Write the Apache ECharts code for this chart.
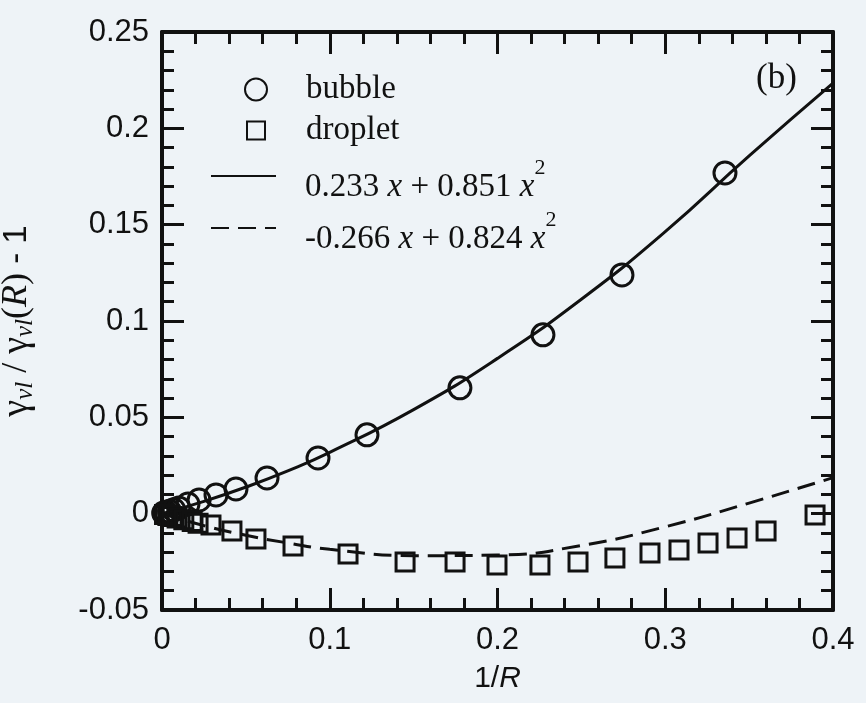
<!DOCTYPE html>
<html>
<head>
<meta charset="utf-8">
<script src="https://cdn.jsdelivr.net/npm/echarts@6/dist/echarts.min.js"></script>
<style>
  html, body { margin: 0; padding: 0; background: #eef3f7; }
  #chart { width: 866px; height: 703px; }
</style>
</head>
<body>
<div id="chart"></div>
<script>
// Simulated bubbles: inverse radius vs. relative surface tension change
const bubbleX = [0.001, 0.0025, 0.0045, 0.007, 0.010, 0.0155, 0.0221, 0.0322, 0.0441, 0.0626, 0.093, 0.1222, 0.1776, 0.2271, 0.2742, 0.3356];
const bubbleY = [0.0003, 0.0007, 0.0013, 0.0020, 0.0030, 0.0050, 0.0071, 0.0097, 0.0128, 0.0185, 0.0289, 0.0409, 0.0653, 0.0928, 0.1239, 0.1768];

// Simulated droplets
const dropX = [0.0015, 0.0035, 0.006, 0.009, 0.013, 0.018, 0.0215, 0.0292, 0.0417, 0.056, 0.0781, 0.1109, 0.1449, 0.1747, 0.1997, 0.2253, 0.248, 0.27, 0.2909, 0.3082, 0.3255, 0.3428, 0.3601, 0.3893];
const dropY = [-0.0004, -0.0009, -0.0015, -0.0022, -0.0031, -0.0041, -0.0050, -0.0059, -0.0090, -0.0131, -0.0168, -0.0209, -0.0251, -0.0251, -0.0266, -0.0266, -0.0251, -0.0230, -0.0204, -0.0188, -0.0152, -0.0126, -0.0090, -0.0007];

// Quadratic fit curves, sampled along 1/R
const fitX = [0, 0.025, 0.05, 0.075, 0.1, 0.15, 0.2, 0.25, 0.3, 0.35, 0.4];
const bubbleFitY = [0, 0.0064, 0.0138, 0.0222, 0.0318, 0.0540, 0.0806, 0.1113, 0.1464, 0.1857, 0.2235];
const dropletFitY = [0, -0.0062, -0.0112, -0.0152, -0.0185, -0.0218, -0.0215, -0.0165, -0.0068, 0.0055, 0.0187];

// Axis tick labels
const xTicks = ['0', '0.1', '0.2', '0.3', '0.4'];
const yTicks = ['-0.05', '0', '0.05', '0.1', '0.15', '0.2', '0.25'];

const zip = (xs, ys) => xs.map((x, i) => [x, ys[i]]);

const INK = '#111';
const SERIF = '"Liberation Serif", "DejaVu Serif", serif';
const SANS = '"Liberation Sans", Arial, sans-serif';

const fitBubbleName = '0.233 x + 0.851 x^2';
const fitDropName = '-0.266 x + 0.824 x^2';

// Formula text: main run sits at the bottom of the line, the exponent is lifted
const richFormula = {
  a: { fontFamily: SERIF, fontSize: 33, color: INK, lineHeight: 34, verticalAlign: 'bottom' },
  i: { fontFamily: SERIF, fontSize: 33, fontStyle: 'italic', color: INK, lineHeight: 34, verticalAlign: 'bottom' },
  s: { fontFamily: SERIF, fontSize: 22, color: INK, lineHeight: 22, verticalAlign: 'bottom', padding: [0, 0, 25, 0] }
};

function legendLabel(name) {
  if (name === fitBubbleName) return '{a|0.233 }{i|x}{a| + 0.851 }{i|x}{s|2}';
  if (name === fitDropName) return '{a|-0.266 }{i|x}{a| + 0.824 }{i|x}{s|2}';
  return name;
}

function tickFormatter(list) {
  return v => {
    const s = String(+v.toFixed(3));
    return list.includes(s) ? s : '';
  };
}

const axisCommon = {
  type: 'value',
  axisLine: { show: true, onZero: false, lineStyle: { color: INK, width: 4 } },
  axisTick: { show: true, inside: true, length: 22, lineStyle: { color: INK, width: 3 } },
  minorTick: { show: true, splitNumber: 5, length: 12, lineStyle: { color: INK, width: 3 } },
  splitLine: { show: false }
};

const legendBase = {
  orient: 'vertical',
  itemGap: 0,
  padding: 0,
  selectedMode: false,
  textStyle: { fontFamily: SERIF, fontSize: 33, color: INK },
  formatter: legendLabel
};

const markerLegendText = pad => ({ fontFamily: SERIF, fontSize: 33, color: INK, padding: [0, 0, 0, pad] });
const lineLegendText = { fontFamily: SERIF, fontSize: 33, color: INK, padding: [22, 0, 0, 24], rich: richFormula };
const noDot = { color: 'rgba(0,0,0,0)', borderWidth: 0 };

const option = {
  backgroundColor: '#eef3f7',
  animation: false,
  grid: { left: 162, right: 33, top: 32, bottom: 93, outerBoundsMode: 'none' },
  xAxis: [
    Object.assign({}, axisCommon, {
      min: 0, max: 0.4, interval: 0.1, position: 'bottom',
      axisLabel: { fontFamily: SANS, fontSize: 31, color: INK, margin: 15, formatter: tickFormatter(xTicks) },
      name: '{t|1/}{it|R}',
      nameLocation: 'middle',
      nameGap: 54,
      nameTextStyle: {
        rich: {
          t: { fontFamily: SANS, fontSize: 30, color: INK },
          it: { fontFamily: SANS, fontSize: 30, fontStyle: 'italic', color: INK }
        }
      }
    }),
    Object.assign({}, axisCommon, {
      min: 0, max: 0.4, interval: 0.1, position: 'top',
      axisLabel: { show: false }
    })
  ],
  yAxis: [
    Object.assign({}, axisCommon, {
      min: -0.05, max: 0.25, interval: 0.05, position: 'left',
      axisLabel: { fontFamily: SANS, fontSize: 31, color: INK, margin: 13, formatter: tickFormatter(yTicks) },
      name: '{g|γ}{sb|vl}{t| / }{g|γ}{sb|vl}{t|(}{it|R}{t|)}{d| - 1}',
      nameLocation: 'middle',
      nameRotate: 90,
      nameGap: 124,
      nameTextStyle: {
        rich: {
          g: { fontFamily: SERIF, fontSize: 38, color: INK, lineHeight: 42 },
          sb: { fontFamily: SERIF, fontSize: 25, fontStyle: 'italic', color: INK, verticalAlign: 'bottom', lineHeight: 25 },
          t: { fontFamily: SERIF, fontSize: 36, color: INK, lineHeight: 42 },
          it: { fontFamily: SERIF, fontSize: 36, fontStyle: 'italic', color: INK, lineHeight: 42 },
          d: { fontFamily: SANS, fontSize: 33, color: INK, lineHeight: 42 }
        }
      }
    }),
    Object.assign({}, axisCommon, {
      min: -0.05, max: 0.25, interval: 0.05, position: 'right',
      axisLabel: { show: false }
    })
  ],
  legend: [
    Object.assign({}, legendBase, {
      data: [{ name: 'bubble', icon: 'circle' }], left: 244, top: 73,
      itemWidth: 22, itemHeight: 22, textStyle: markerLegendText(34)
    }),
    Object.assign({}, legendBase, {
      data: [{ name: 'droplet', icon: 'rect' }], left: 246, top: 114,
      itemWidth: 18, itemHeight: 18, textStyle: markerLegendText(36)
    }),
    Object.assign({}, legendBase, {
      data: [fitBubbleName], left: 210, top: 157, itemWidth: 65, itemHeight: 14,
      itemStyle: noDot, textStyle: lineLegendText
    }),
    Object.assign({}, legendBase, {
      data: [fitDropName], left: 210, top: 209, itemWidth: 65, itemHeight: 14,
      itemStyle: noDot, textStyle: lineLegendText
    })
  ],
  graphic: [
    {
      type: 'text',
      left: 756,
      top: 61,
      style: { text: '(b)', fontFamily: SERIF, fontSize: 35, fill: INK }
    }
  ],
  series: [
    {
      name: fitBubbleName,
      type: 'line',
      data: zip(fitX, bubbleFitY),
      smooth: true,
      symbol: 'none',
      lineStyle: { color: INK, width: 3 },
      itemStyle: { color: INK },
      z: 2
    },
    {
      name: fitDropName,
      type: 'line',
      data: zip(fitX, dropletFitY),
      smooth: true,
      symbol: 'none',
      lineStyle: { color: INK, width: 3, type: [18, 9] },
      itemStyle: { color: INK },
      z: 2
    },
    {
      name: 'bubble',
      type: 'scatter',
      data: zip(bubbleX, bubbleY),
      symbol: 'circle',
      symbolSize: 22,
      itemStyle: { color: 'rgba(0,0,0,0)', borderColor: INK, borderWidth: 3, opacity: 1 },
      z: 3
    },
    {
      name: 'droplet',
      type: 'scatter',
      data: zip(dropX, dropY),
      symbol: 'rect',
      symbolSize: 18,
      itemStyle: { color: 'rgba(0,0,0,0)', borderColor: INK, borderWidth: 3, opacity: 1 },
      z: 3
    }
  ]
};

const chart = echarts.init(document.getElementById('chart'), null, { renderer: 'canvas' });
chart.setOption(option);
</script>
</body>
</html>
